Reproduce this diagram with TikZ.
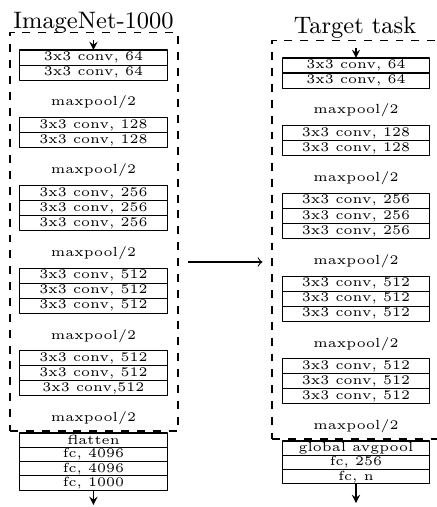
\documentclass[tikz,border=0pt]{standalone}
\usetikzlibrary{positioning}
\tikzset{
	layer/.style={draw,minimum width=1.96cm,minimum height=0.2cm,inner sep=0pt,outer sep=0pt,font=\tiny},
	fclayer/.style={layer,minimum height=0.19cm},
	pool/.style={inner sep=0pt,font=\tiny},
	net/.style={draw,dashed,minimum width=2.234cm,minimum height=5.293cm,inner sep=0pt},
	nettitle/.style={anchor=base,inner sep=0pt,font=\small}
}
\begin{document}
\begin{tikzpicture}[line join=round,>=stealth]
			\useasboundingbox (0,0) rectangle (5.811,-6.742);
			\node[net] (imnet) at (1.250,-3.085) {};
			\node[net] (target) at (4.734,-3.191) {};
			\node[nettitle] (imnettitle) at (1.243,-0.379) {ImageNet-1000};
			\node[nettitle] (targettitle) at (4.721,-0.439) {Target task};
			\foreach \c/\xc/\yc/\last in {A/1.243/0/{3x3 conv,512},B/4.734/-0.106/{3x3 conv, 512}}{
				\begin{scope}[shift={(\xc,\yc)}]
				\foreach \y/\t [count=\i] in {-0.765/{3x3 conv, 64},-0.965/{3x3 conv, 64},
					-1.665/{3x3 conv, 128},-1.865/{3x3 conv, 128},
					-2.565/{3x3 conv, 256},-2.765/{3x3 conv, 256},-2.965/{3x3 conv, 256},
					-3.665/{3x3 conv, 512},-3.865/{3x3 conv, 512},-4.065/{3x3 conv, 512},
					-4.765/{3x3 conv, 512},-4.965/{3x3 conv, 512},-5.165/\last}{
					\node[layer] (\c\i) at (0,\y) {\t};}
				\foreach \y [count=\i] in {-1.365,-2.265,-3.365,-4.465,-5.565}{
					\node[pool] (\c pool\i) at (0,\y) {maxpool/2};}
				\end{scope}
			}
			\node[fclayer] (Afc1) at (1.243,-5.853) {flatten};
			\node[fclayer,below=0pt of Afc1] (Afc2) {fc, 4096};
			\node[fclayer,below=0pt of Afc2] (Afc3) {fc, 4096};
			\node[fclayer,below=0pt of Afc3] (Afc4) {fc, 1000};
			\node[fclayer] (Bfc1) at (4.734,-5.959) {global avgpool};
			\node[fclayer,below=0pt of Bfc1] (Bfc2) {fc, 256};
			\node[fclayer,below=0pt of Bfc2] (Bfc3) {fc, n};
			\coordinate (Ain) at (1.243,-0.532);
			\coordinate (Bin) at (4.734,-0.638);
			\coordinate (Aout) at (1.243,-6.715);
			\coordinate (Bout) at (4.734,-6.689);
			\coordinate (mid) at (0,-3.484);
			\draw[->] (Ain)--(A1);
			\draw[->] (Bin)--(B1);
			\draw[->] (Afc4)--(Aout);
			\draw[->] (Bfc3)--(Bout);
			\draw[-to,shorten <=0.12cm,shorten >=0.12cm] (imnet.east|-mid)--(target.west|-mid);
	\end{tikzpicture}
\end{document}
